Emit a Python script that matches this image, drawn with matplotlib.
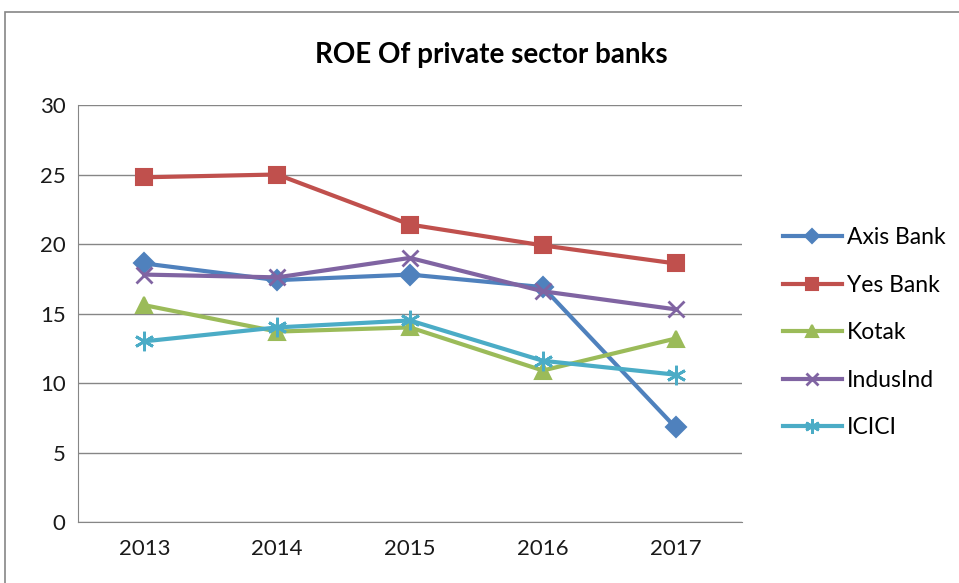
import matplotlib.pyplot as plt
from matplotlib.patches import Rectangle

plt.rcParams['font.family'] = ['Lato', 'DejaVu Sans']

years = ['2013', '2014', '2015', '2016', '2017']
axis_bank = [18.6, 17.4, 17.8, 16.9, 6.8]
yes_bank = [24.8, 25.0, 21.4, 19.9, 18.6]
kotak = [15.6, 13.7, 14.0, 10.9, 13.2]
indusind = [17.8, 17.6, 19.0, 16.6, 15.3]
icici = [13.0, 14.0, 14.5, 11.6, 10.6]

series = [
    ('Axis Bank', axis_bank, '#4F81BD', 'D', 10),
    ('Yes Bank', yes_bank, '#C0504D', 's', 12),
    ('Kotak', kotak, '#9BBB59', '^', 12),
    ('IndusInd', indusind, '#8064A2', 'x', 12),
    ('ICICI', icici, '#4BACC6', (6, 2, 0), 14),
]

fig = plt.figure(figsize=(9.59, 5.83), dpi=100)
ax = fig.add_axes([0.0813, 0.1046, 0.6924, 0.7153])

xs = range(len(years))
for name, vals, col, mk, ms in series:
    ax.plot(xs, vals, color=col, lw=3, marker=mk, markersize=ms,
            markeredgewidth=2 if mk == 'x' or isinstance(mk, tuple) else 1.5,
            markerfacecolor=col, markeredgecolor=col, label=name)

ax.set_xlim(-0.5, 4.5)
ax.set_ylim(0, 30)
ax.set_yticks(range(0, 31, 5))
ax.set_xticks(list(xs))
ax.set_xticklabels(years)
ax.grid(axis='y', color='#868686', lw=1)
ax.set_axisbelow(True)
for s in ['top', 'right']:
    ax.spines[s].set_visible(False)
for s in ['left', 'bottom']:
    ax.spines[s].set_color('#868686')
ax.tick_params(length=0, labelsize=16, colors='#1a1a1a')
ax.tick_params(axis='x', pad=12)
ax.tick_params(axis='y', pad=9)

ax.legend(loc='center left', bbox_to_anchor=(1.03, 0.454), frameon=False,
          fontsize=16.5, labelspacing=1.15, handlelength=2.6, handletextpad=0.2,
          markerscale=0.75)

fig.text(0.512, 0.905, 'ROE Of private sector banks', ha='center', va='center',
         fontsize=20, fontweight='bold')

fig.patches.append(Rectangle((5 / 959, -0.05), 1.0, 1 - 12 / 583 + 0.05,
                             transform=fig.transFigure, fill=False,
                             edgecolor='#868686', lw=1.2))

fig.savefig('out.png', dpi=100)
